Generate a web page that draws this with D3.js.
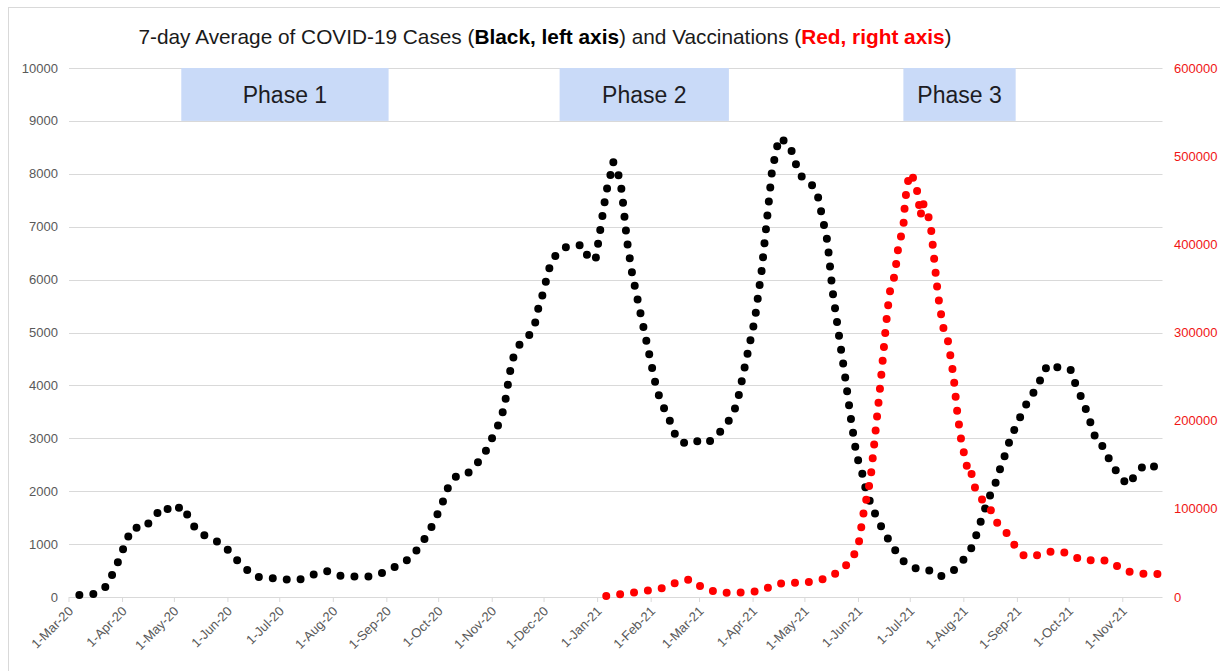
<!DOCTYPE html>
<head>
  <meta charset="utf-8">
  <script src="https://d3js.org/d3.v7.min.js"></script>
  <style>
    body { margin: 0; background: #fff; }
    * { font-family: "Liberation Sans", Arial, sans-serif; }
  </style>
</head>
<body>
  <div id="chart"></div>
  <script>
    // 7-day average of cases (left axis)
    var caseDates = ["2020-03-07","2020-03-16","2020-03-23","2020-03-27","2020-03-31","2020-04-03","2020-04-07","2020-04-13","2020-04-19","2020-04-24",
      "2020-05-01","2020-05-05","2020-05-10","2020-05-14","2020-05-21","2020-05-29","2020-06-04","2020-06-10","2020-06-17","2020-06-25",
      "2020-07-04","2020-07-12","2020-07-20","2020-07-28","2020-08-05","2020-08-14","2020-08-22","2020-08-30","2020-09-07","2020-09-15",
      "2020-09-20","2020-09-25","2020-09-29","2020-10-03","2020-10-06","2020-10-11","2020-10-17","2020-10-23","2020-10-28","2020-11-01",
      "2020-11-05","2020-11-08","2020-11-11","2020-11-13","2020-11-17","2020-11-22","2020-11-26","2020-11-28","2020-12-01","2020-12-03",
      "2020-12-06","2020-12-12","2020-12-18","2020-12-24","2020-12-27","2020-12-31","2021-01-03","2021-01-06","2021-01-08","2021-01-10",
      "2021-01-13","2021-01-15","2021-01-18","2021-01-21","2021-01-25","2021-01-29","2021-02-02","2021-02-04","2021-02-07","2021-02-11",
      "2021-02-14","2021-02-19","2021-02-25","2021-03-04","2021-03-10","2021-03-15","2021-03-20","2021-03-23","2021-03-27","2021-04-02",
      "2021-04-06","2021-04-09","2021-04-12","2021-04-14","2021-04-16","2021-04-22","2021-04-25","2021-04-28","2021-05-03","2021-05-08",
      "2021-05-10","2021-05-14","2021-05-17","2021-05-21","2021-05-24","2021-05-28","2021-05-31","2021-06-03","2021-06-05","2021-06-08",
      "2021-06-12","2021-06-16","2021-06-21","2021-06-26","2021-07-03","2021-07-11","2021-07-18","2021-07-26","2021-08-01","2021-08-06",
      "2021-08-09","2021-08-12","2021-08-15","2021-08-19","2021-08-22","2021-08-25","2021-08-28","2021-09-01","2021-09-05","2021-09-08",
      "2021-09-13","2021-09-16","2021-09-21","2021-09-26","2021-10-02","2021-10-05","2021-10-09","2021-10-14","2021-10-17","2021-10-19",
      "2021-10-21","2021-10-25","2021-10-30","2021-11-04","2021-11-09","2021-11-14","2021-11-21","2021-11-24"];
    var caseValues = [40,60,210,490,780,1060,1320,1290,1490,1710,
      1600,1730,1480,1240,1120,1000,775,570,385,360,
      335,320,420,490,400,385,390,460,590,740,
      964,1204,1469,1764,2042,2275,2306,2514,2741,3011,
      3289,3586,4210,4512,4783,4921,5198,5507,5797,6112,
      6396,6597,6648,6648,6358,6414,7038,7662,7914,8229,
      7990,7675,6736,6112,5488,4877,4259,3957,3662,3409,
      3113,2905,2974,2892,3000,3208,3422,3705,4323,5242,
      6181,7127,8071,8374,8682,8563,8261,7971,7883,7650,
      7347,6730,5784,4877,4228,3283,2665,2363,2066,1771,
      1469,1216,945,699,548,523,384,497,712,958,
      1248,1544,1834,2123,2420,2703,3000,3289,3567,3762,
      3983,4285,4410,4304,4291,3983,3705,3232,2917,2892,
      2830,2539,2293,2111,2338,2514,2452,2571];

    // 7-day average of vaccinations (right axis)
    var vaxDates = ["2021-01-06","2021-01-15","2021-01-23","2021-02-01","2021-02-09","2021-02-17","2021-02-24","2021-03-03","2021-03-12","2021-03-20",
      "2021-03-29","2021-04-06","2021-04-14","2021-04-22","2021-04-30","2021-05-07","2021-05-15","2021-05-22","2021-05-28","2021-06-01",
      "2021-06-04","2021-06-08","2021-06-11","2021-06-14","2021-06-17","2021-06-19","2021-06-22","2021-06-24","2021-06-27","2021-06-28",
      "2021-06-30","2021-07-01","2021-07-03","2021-07-05","2021-07-07","2021-07-08","2021-07-11","2021-07-13","2021-07-15","2021-07-17",
      "2021-07-20","2021-07-23","2021-07-26","2021-07-28","2021-07-30","2021-08-01","2021-08-03","2021-08-05","2021-08-06","2021-08-10",
      "2021-08-16","2021-08-20","2021-08-26","2021-08-31","2021-09-05","2021-09-11","2021-09-19","2021-09-27","2021-10-05","2021-10-11",
      "2021-10-17","2021-10-25","2021-11-01","2021-11-09","2021-11-17","2021-11-24"];
    var vaxValues = [1100,3400,5300,7900,10600,17800,20000,10200,4900,4900,
      5300,7200,14400,16600,15500,18500,21500,31000,41600,59000,
      96000,134000,190000,247000,310000,345000,365000,396000,420000,450000,
      475000,481000,474000,460000,432000,448000,436000,418000,380000,343000,
      306000,289000,251000,213000,183000,164000,146000,148000,130000,114000,
      101000,85000,72000,57000,46500,46500,51400,51400,44600,40800,
      42800,40000,30600,26900,26100,26000];

    var leftTicks = [0,1000,2000,3000,4000,5000,6000,7000,8000,9000,10000];
    var rightTicks = [0,100000,200000,300000,400000,500000,600000];
    var monthTicks = ["2020-03-01","2020-04-01","2020-05-01","2020-06-01","2020-07-01","2020-08-01","2020-09-01","2020-10-01","2020-11-01","2020-12-01",
      "2021-01-01","2021-02-01","2021-03-01","2021-04-01","2021-05-01","2021-06-01","2021-07-01","2021-08-01","2021-09-01","2021-10-01","2021-11-01"];

    var phaseNames = ["Phase 1","Phase 2","Phase 3"];
    var phaseStarts = ["2020-05-05","2020-12-10","2021-06-27"];
    var phaseEnds = ["2020-09-02","2021-03-18","2021-08-31"];

    var width = 1220, height = 671;
    var parse = d3.timeParse("%Y-%m-%d");
    var fmt = d3.timeFormat("%-d-%b-%y");

    var svg = d3.select("#chart").append("svg")
      .attr("width", width)
      .attr("height", height);

    // outer chart border
    svg.append("rect")
      .attr("x", 8.5).attr("y", 7.5)
      .attr("width", 1300).attr("height", 800)
      .attr("fill", "none").attr("stroke", "#d9d9d9");

    var x = d3.scaleTime()
      .domain([parse("2020-03-01"), parse("2021-11-24")])
      .range([69, 1162.5]);
    var y = d3.scaleLinear().domain([0, 10000]).range([597, 68]);
    var y2 = d3.scaleLinear().domain([0, 600000]).range([597, 68]);

    // gridlines
    svg.append("g").selectAll("line")
      .data(leftTicks)
      .enter().append("line")
      .attr("x1", x.range()[0]).attr("x2", x.range()[1])
      .attr("y1", function(d) { return Math.round(y(d)) + 0.5 })
      .attr("y2", function(d) { return Math.round(y(d)) + 0.5 })
      .attr("stroke", "#d9d9d9").attr("stroke-width", 1);

    // month ticks
    svg.append("g").selectAll("line")
      .data(monthTicks)
      .enter().append("line")
      .attr("x1", function(d) { return x(parse(d)) })
      .attr("x2", function(d) { return x(parse(d)) })
      .attr("y1", 597).attr("y2", 602)
      .attr("stroke", "#d9d9d9");

    // phase boxes
    var phases = svg.append("g").selectAll("g")
      .data(phaseNames)
      .enter().append("g");
    phases.append("rect")
      .attr("x", function(d, i) { return x(parse(phaseStarts[i])) })
      .attr("y", y(10000))
      .attr("width", function(d, i) { return x(parse(phaseEnds[i])) - x(parse(phaseStarts[i])) })
      .attr("height", y(9000) - y(10000))
      .attr("fill", "#c9daf8");
    phases.append("text")
      .attr("x", function(d, i) { return (x(parse(phaseStarts[i])) + x(parse(phaseEnds[i]))) / 2 })
      .attr("y", (y(10000) + y(9000)) / 2 + 8.5)
      .attr("text-anchor", "middle")
      .attr("font-size", "23px")
      .attr("fill", "#1c1c24")
      .text(function(d) { return d });

    // left axis labels
    svg.append("g").selectAll("text")
      .data(leftTicks)
      .enter().append("text")
      .attr("x", 58).attr("y", function(d) { return y(d) })
      .attr("dy", "0.35em")
      .attr("text-anchor", "end")
      .attr("font-size", "13px")
      .attr("fill", "#595959")
      .text(function(d) { return d });

    // right axis labels
    svg.append("g").selectAll("text")
      .data(rightTicks)
      .enter().append("text")
      .attr("x", 1174).attr("y", function(d) { return y2(d) })
      .attr("dy", "0.35em")
      .attr("font-size", "13px")
      .attr("fill", "#f01515")
      .text(function(d) { return d });

    // date labels
    svg.append("g").selectAll("text")
      .data(monthTicks)
      .enter().append("text")
      .attr("transform", function(d) { return "translate(" + (x(parse(d)) + 5) + ",612) rotate(-45)" })
      .attr("text-anchor", "end")
      .attr("font-size", "13px")
      .attr("fill", "#595959")
      .text(function(d) { return fmt(parse(d)) });

    // dotted lines
    var caseLine = d3.line()
      .x(function(d, i) { return x(parse(caseDates[i])) })
      .y(function(d) { return y(d) });
    var vaxLine = d3.line()
      .x(function(d, i) { return x(parse(vaxDates[i])) })
      .y(function(d) { return y2(d) });

    svg.append("path")
      .attr("d", caseLine(caseValues))
      .attr("fill", "none")
      .attr("stroke", "#000")
      .attr("stroke-width", 8)
      .attr("stroke-linecap", "round")
      .attr("stroke-linejoin", "round")
      .attr("stroke-dasharray", "0 14");

    svg.append("path")
      .attr("d", vaxLine(vaxValues))
      .attr("fill", "none")
      .attr("stroke", "#ff0000")
      .attr("stroke-width", 8)
      .attr("stroke-linecap", "round")
      .attr("stroke-linejoin", "round")
      .attr("stroke-dasharray", "0 14");

    // title
    var title = svg.append("text")
      .attr("x", 545).attr("y", 44)
      .attr("text-anchor", "middle")
      .attr("font-size", "20.8px")
      .attr("fill", "#1a1a1a");
    title.append("tspan").text("7-day Average of COVID-19 Cases (");
    title.append("tspan").attr("font-weight", "bold").attr("fill", "#000").text("Black, left axis");
    title.append("tspan").text(") and Vaccinations (");
    title.append("tspan").attr("font-weight", "bold").attr("fill", "#ff0000").text("Red, right axis");
    title.append("tspan").text(")");
  </script>
</body>
